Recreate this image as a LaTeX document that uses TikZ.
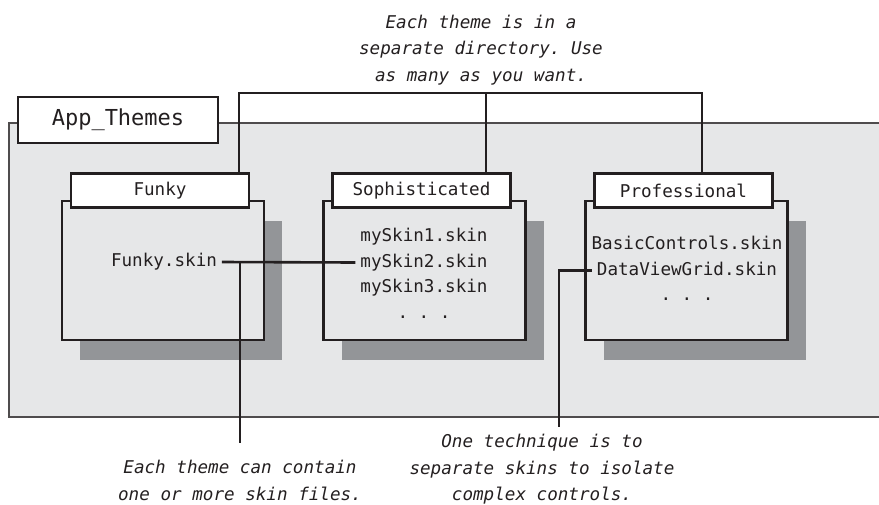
\documentclass[tikz,border=0pt]{standalone}
\usepackage{fontspec}
\setmonofont{DejaVu Sans Mono}[ItalicFont={DejaVu Sans Mono Oblique}]
\usepackage{tikz}
\usetikzlibrary{positioning,shadows}
\definecolor{panel}{HTML}{E6E7E8}
\definecolor{shade}{HTML}{939598}
\definecolor{ink}{HTML}{231F20}
\newcommand{\mono}{\ttfamily\fontsize{17.6}{26.5}\selectfont}

\begin{document}
\begin{tikzpicture}[x=1pt, y=-1pt,
  every node/.style={font=\mono, text=ink},
  theme/.style={draw=ink, line width=2.5pt, fill=panel, minimum width=202pt, minimum height=139pt, inner sep=0pt,
    drop shadow={shadow xshift=18pt, shadow yshift=-20pt, fill=shade, opacity=1}},
  tab/.style={draw=ink, line width=2.5pt, fill=white, minimum width=178pt, minimum height=34pt, inner sep=0pt},
  ln/.style={inner xsep=5pt, inner ysep=0pt, outer sep=0pt, text height=13pt, text depth=4pt, minimum height=25.5pt},
  note/.style={align=center, inner sep=0pt, font=\mono\itshape},
  conn/.style={draw=ink, line width=2.6pt}
]
\useasboundingbox (0,0) rectangle (879,504);
\clip (0,0) rectangle (879,504);
% the themes folder
\fill[panel] (9,123) rectangle (879,417);
\draw[draw=ink!80, line width=2.8pt] (879,123) -- (9,123) -- (9,417) -- (879,417);
\node[tab, minimum width=200pt, minimum height=46pt, font=\ttfamily\fontsize{22}{26}\selectfont] (apptab) at (118,120) {App\_Themes};
% one box per theme
\node[theme] (funky) at (163,270.5) {};
\node[theme] (soph) at (424.5,270.5) {};
\node[theme] (prof) at (686.5,270.5) {};
\node[tab, above=-9pt of funky.north, xshift=-3pt] (ftab) {Funky};
\node[tab, above=-9pt of soph.north, xshift=-3pt] (stab) {Sophisticated};
\node[tab, above=-9pt of prof.north, xshift=-3pt] (ptab) {Professional};
% skin files
\node[ln] (fsk) at (164,262) {Funky.skin};
\node[ln] (sk1) at (424,237) {mySkin1.skin};
\node[ln, below=0pt of sk1] (sk2) {mySkin2.skin};
\node[ln, below=0pt of sk2] (sk3) {mySkin3.skin};
\node[ln, below=0pt of sk3] (sdots) {.\ .\ .};
\node[ln] (bc) at (687,245) {BasicControls.skin};
\node[ln, below=0pt of bc] (dvg) {DataViewGrid.skin};
\node[ln, below=0pt of dvg] (pdots) {.\ .\ .};
% callouts
\coordinate (bl) at (239,93);
\coordinate (bm) at (486,93);
\coordinate (br) at (702,93);
\coordinate[left=33pt of dvg.west] (rj);
\node[note, above=8pt of bm, xshift=-5pt] (tnote) {Each theme is in a\\separate directory. Use\\as many as you want.};
\node[note, anchor=north] (lnote) at (240,460) {Each theme can contain\\one or more skin files.};
\node[note, anchor=north] (rnote) at (542,434) {One technique is to\\separate skins to isolate\\complex controls.};
\draw[conn] (ftab.north -| bl) -- (bl) -- (br) -- (ptab.north -| br);
\draw[conn] (bm) -- (stab.north -| bm);
\draw[conn] (fsk.east) -- (sk2.west);
\draw[conn, shorten >=17pt] (lnote.north |- fsk.east) -- (lnote.north);
\draw[conn, shorten >=7pt] (dvg.west) -- (rj) -- (rj |- rnote.north);
\end{tikzpicture}
\end{document}
